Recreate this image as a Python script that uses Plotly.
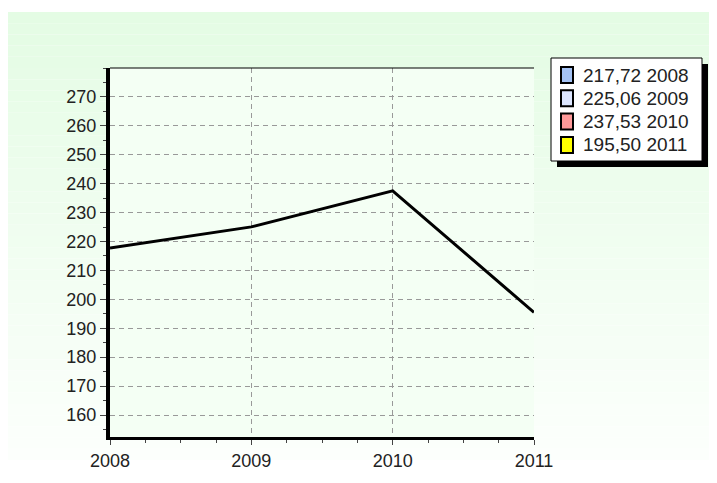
import plotly.graph_objects as go

years = [2008, 2009, 2010, 2011]
values = [217.72, 225.06, 237.53, 195.50]
legend_labels = ["217,72 2008", "225,06 2009", "237,53 2010", "195,50 2011"]
legend_colors = ["#a4c2f4", "#dde6ff", "#ff9a9a", "#ffff00"]

# page body has an 8px margin, so the figure is 8px smaller
W, H = 709, 475
L, R, T, B = 102, 526, 60, 429


def px(x):
    return (x - L) / (R - L)


def py(y):
    return (B - y) / (B - T)


fig = go.Figure()

# main line
fig.add_trace(go.Scatter(
    x=years, y=values, mode="lines",
    line=dict(color="black", width=3),
    showlegend=False, hoverinfo="x+y",
))

# background gradient (light green -> white)
shapes = []
n = 40
top_c = (228, 252, 228)
bot_c = (252, 255, 252)
y0, y1 = 4, 452
for i in range(n):
    t = i / (n - 1)
    c = tuple(round(top_c[k] + (bot_c[k] - top_c[k]) * t) for k in range(3))
    ya = y0 + (y1 - y0) * i / n
    yb = y0 + (y1 - y0) * (i + 1) / n
    shapes.append(dict(
        type="rect", xref="paper", yref="paper", layer="below",
        x0=px(0), x1=px(W + 2), y0=py(yb), y1=py(ya),
        fillcolor="rgb(%d,%d,%d)" % c, line=dict(width=0),
    ))

# plot area background
shapes.append(dict(type="rect", xref="paper", yref="paper", layer="below",
                   x0=0, x1=1, y0=0, y1=1,
                   fillcolor="#f4fff4", line=dict(width=0)))
# top border
shapes.append(dict(type="line", xref="paper", yref="paper",
                   x0=0, x1=1, y0=1, y1=1,
                   line=dict(color="black", width=1)))

# legend box with drop shadow
lx0, lx1, ly0, ly1 = 543, 694, 50, 153
off = 6
shapes.append(dict(type="rect", xref="paper", yref="paper",
                   x0=px(lx0 + off), x1=px(lx1 + off),
                   y0=py(ly1 + off), y1=py(ly0 + off),
                   fillcolor="black", line=dict(width=0)))
shapes.append(dict(type="rect", xref="paper", yref="paper",
                   x0=px(lx0), x1=px(lx1), y0=py(ly1), y1=py(ly0),
                   fillcolor="white", line=dict(color="black", width=1)))

annotations = []
row_h = 23.3
for i, (lab, col) in enumerate(zip(legend_labels, legend_colors)):
    cy = ly0 + 17 + i * row_h
    shapes.append(dict(type="rect", xref="paper", yref="paper",
                       x0=px(553), x1=px(565), y0=py(cy + 8), y1=py(cy - 8),
                       fillcolor=col, line=dict(color="black", width=2)))
    annotations.append(dict(
        text=lab, xref="paper", yref="paper", x=px(573), y=py(cy),
        xanchor="left", yanchor="middle", showarrow=False,
        font=dict(size=19, color="#222"),
    ))

grid = dict(showgrid=True, gridcolor="#999", griddash="5px,4px", gridwidth=1)

fig.update_layout(
    width=W, height=H,
    margin=dict(l=L, r=W - R, t=T, b=H - B),
    paper_bgcolor="white",
    plot_bgcolor="rgba(0,0,0,0)",
    font=dict(family="Liberation Sans, Arial, sans-serif", size=18, color="#222"),
    shapes=shapes,
    annotations=annotations,
    showlegend=False,
    xaxis=dict(
        range=[2008, 2011], tickvals=years, ticktext=[str(y) for y in years],
        **grid,
        showline=True, linecolor="black", linewidth=3,
        ticks="outside", ticklen=5, tickcolor="#444",
        minor=dict(dtick=0.25, ticks="outside", ticklen=3, tickcolor="#444", showgrid=False),
        zeroline=False, fixedrange=True,
    ),
    yaxis=dict(
        range=[152.4, 280], tickvals=list(range(160, 280, 10)),
        **grid,
        showline=True, linecolor="black", linewidth=4,
        ticks="outside", ticklen=6, tickcolor="#444",
        minor=dict(dtick=5, ticks="outside", ticklen=3, tickcolor="#444", showgrid=False),
        zeroline=False, fixedrange=True,
    ),
)

fig.write_html("out.html")
